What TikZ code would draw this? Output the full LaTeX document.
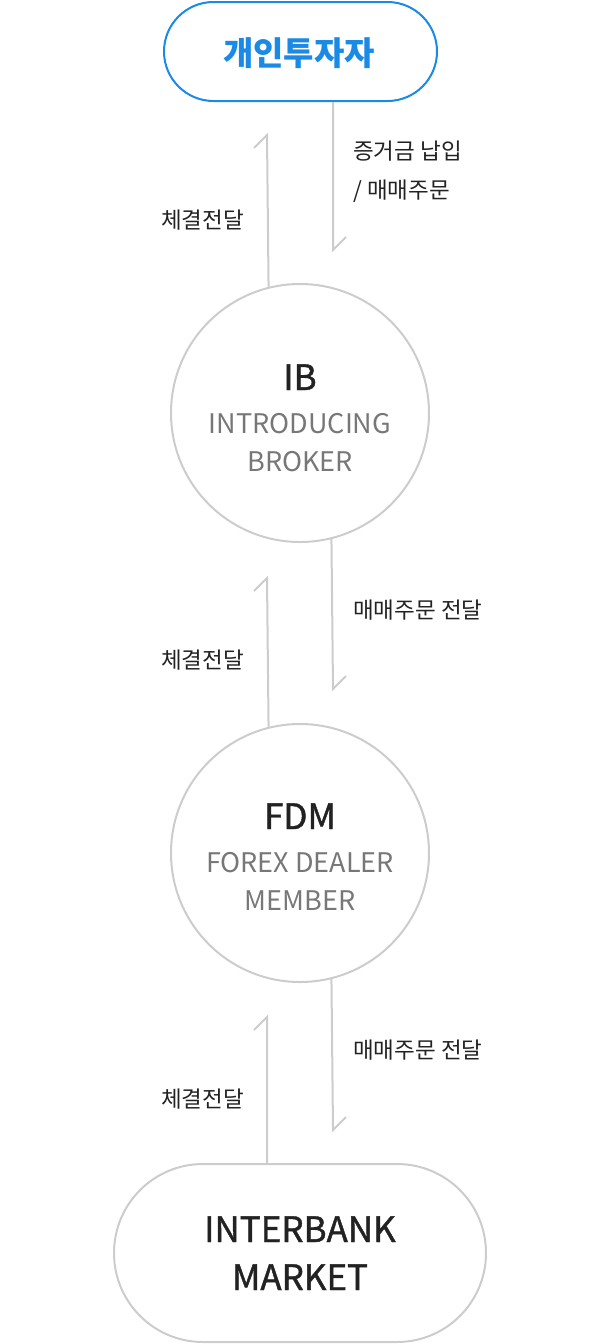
\documentclass[tikz,border=0pt]{standalone}
\usepackage{fontspec}
\setmainfont{Noto Sans CJK KR}
\newfontfamily\krmed[FakeBold=1.2]{Noto Sans CJK KR}
\definecolor{blueline}{HTML}{1A8AE6}
\definecolor{linegray}{HTML}{CCCCCC}
\definecolor{darktext}{HTML}{222222}
\definecolor{graytext}{HTML}{777777}
\begin{document}
\begin{tikzpicture}[x=1pt,y=-1pt,
  conn/.style={draw=linegray, line width=2pt},
  ttl/.style={inner sep=0pt, anchor=base, text=darktext, font=\krmed\fontsize{35}{40}\selectfont},
  sub/.style={inner sep=0pt, anchor=base, text=graytext, font=\fontsize{27}{32}\selectfont},
  lbl/.style={inner sep=0pt, anchor=base west, text=darktext, font=\fontsize{22.5}{26}\selectfont},
  ring/.style={circle, draw=linegray, line width=2pt, minimum size=258pt, inner sep=0pt}
]
\useasboundingbox (0,0) rectangle (600,1344);
% shapes
\node[draw=blueline, line width=2pt, rectangle, rounded corners=49.5pt,
      minimum width=273pt, minimum height=99pt, inner sep=0pt] (top) at (300.5,51.5) {};
\node[ring] (ib) at (300,413) {};
\node[ring] (fdm) at (300,853) {};
\node[draw=linegray, line width=2pt, rectangle, rounded corners=89pt,
      minimum width=372pt, minimum height=178pt, inner sep=0pt] (bot) at (300,1253) {};
% texts
\node[inner sep=0pt, anchor=base, text=blueline, font=\bfseries\fontsize{33}{37}\selectfont] (topt) at (299,65) {개인투자자};
\node[ttl] (ibt) at (300,390) {IB};
\node[sub] (ibs1) at (300,433) {INTRODUCING};
\node[sub] (ibs2) at (300,471) {BROKER};
\node[ttl] (fdmt) at (300,829) {FDM};
\node[sub] (fdms1) at (300,872) {FOREX DEALER};
\node[sub] (fdms2) at (300,910) {MEMBER};
\node[ttl] (bott1) at (300,1242) {INTERBANK};
\node[ttl] (bott2) at (300,1290) {MARKET};
% labels
\node[lbl] (l1a) at (353,159) {증거금 납입};
\node[lbl] (l1b) at (353,198) {/ 매매주문};
\node[lbl] (l1c) at (161,228) {체결전달};
\node[lbl] (l2a) at (353,618) {매매주문 전달};
\node[lbl] (l2c) at (161,668) {체결전달};
\node[lbl] (l3a) at (353,1058) {매매주문 전달};
\node[lbl] (l3c) at (161,1107) {체결전달};
% arrow ends
\coordinate (d1) at (333,250);
\coordinate (u1) at (267,135);
\coordinate (d2) at (333,689);
\coordinate (u2) at (267,578);
\coordinate (d3) at (333,1130);
\coordinate (u3) at (267,1017);
% connectors
\draw[conn] (top.south -| d1) -- (d1) -- ++(13,-13);
\draw[conn] (ib.104.8) -- (u1) -- ++(-13,13);
\draw[conn] (ib.284.8) -- (d2) -- ++(13,-13);
\draw[conn] (fdm.104.8) -- (u2) -- ++(-13,13);
\draw[conn] (fdm.284.8) -- (d3) -- ++(13,-13);
\draw[conn] (bot.north -| u3) -- (u3) -- ++(-13,13);
\end{tikzpicture}
\end{document}
